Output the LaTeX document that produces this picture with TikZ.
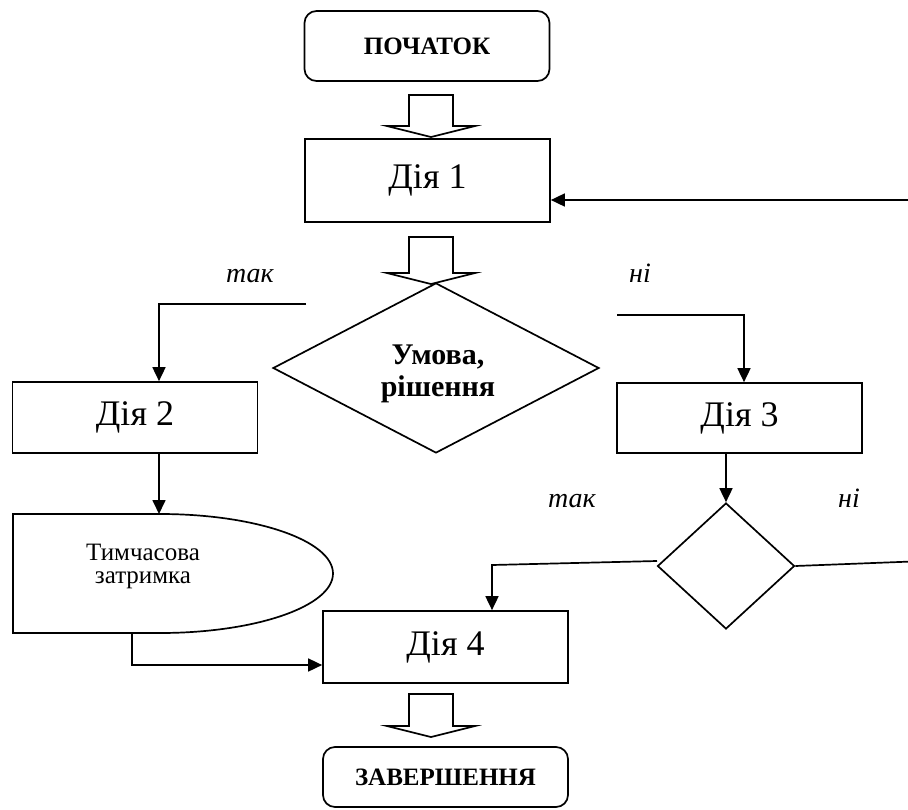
\documentclass[tikz,border=0pt]{standalone}
\usepackage{fontspec}
\setmainfont{Liberation Serif}
\usetikzlibrary{shapes.geometric,arrows.meta}
\tikzset{
  every picture/.style={line width=1.7pt, line join=miter},
  actionbox/.style={draw, rectangle, inner sep=0pt, minimum width=245pt,
    font=\fontsize{36}{40}\selectfont},
  terminal/.style={draw, rectangle, rounded corners=12pt, inner sep=0pt,
    minimum width=245pt, font=\bfseries\fontsize{25}{30}\selectfont},
  decision/.style={draw, diamond, inner sep=0pt},
  condtext/.style={inner sep=0pt, align=center, font=\bfseries\fontsize{30}{32}\selectfont},
  answer/.style={inner sep=0pt, anchor=base, font=\itshape\fontsize{28}{32}\selectfont},
  flow/.style={-{Triangle[length=14pt,width=13pt]}},
  hollow/.style={draw, fill=white},
  pics/hollowarrow/.style={code={
    \draw[hollow] (-22,0) -- (22,0) -- (22,#1) -- (44,#1) -- (0,#1+11)
      -- (-44,#1) -- (-22,#1) -- cycle;}}
}
\begin{document}
\begin{tikzpicture}[x=1pt,y=-1pt]
\useasboundingbox (0,0) rectangle (908,809);
\clip (0,0) rectangle (908,809);

% blocks
\node[terminal, minimum height=70pt] (start) at (427,46) {ПОЧАТОК};
\node[actionbox, minimum height=83pt] (act1) at (427.5,180.5) {Дія 1};
\node[decision, minimum width=326pt, minimum height=170pt] (cond) at (436,368) {};
\node[condtext] (condlabel) at (438,374) {Умова,\\рішення};
\node[actionbox, minimum height=71pt] (act2) at (135,417.5) {Дія 2};
\node[actionbox, minimum height=70pt] (act3) at (739.5,418) {Дія 3};
\node[decision, minimum width=137pt, minimum height=126pt] (test) at (726,566) {};
\node[actionbox, minimum height=72pt] (act4) at (445.5,647) {Дія 4};
\node[terminal, minimum height=60pt] (finish) at (445.5,777) {ЗАВЕРШЕННЯ};

% delay block
\draw (13,514) -- (160,514) arc[start angle=-90, end angle=90, x radius=173, y radius=59.5]
  -- (13,633) -- cycle;
\node[inner sep=0pt, align=center, font=\fontsize{25}{23}\selectfont] (delay) at (143,566)
  {Тимчасова\\затримка};

% hollow block arrows
\pic at (431,95) {hollowarrow=31};
\pic at (431,237) {hollowarrow=36};
\pic at (431,694) {hollowarrow=32};

% branch labels
\node[answer] (yes1) at (250,282) {так};
\node[answer] (no1) at (640,282) {ні};
\node[answer] (yes2) at (572,507) {так};
\node[answer] (no2) at (849,507) {ні};

% connectors
\coordinate (yesstub) at (306,304);
\coordinate (yescol) at (159,304);
\draw[flow] (yesstub) -- (yescol) -- (yescol |- act2.north);

\coordinate (nostub) at (617,315);
\coordinate (nocol) at (744,315);
\draw[flow] (nostub) -- (nocol) -- (nocol |- act3.north);

\coordinate (delaytop) at (159,514);
\draw[flow] (act2.south -| delaytop) -- (delaytop);

\coordinate (delaybot) at (132,633);
\coordinate (delayturn) at (132,665);
\draw[flow] (delaybot) -- (delayturn) -- (delayturn -| act4.west);

\draw[flow] (act3.south -| test.north) -- (test.north);

\coordinate (testyes) at (657,561);
\coordinate (act4col) at (492,565);
\draw[flow] (testyes) -- (act4col) -- (act4col |- act4.north);

\coordinate (loopcorner) at (925,561);
\coordinate (loopend) at (925,200);
\draw[flow] (test.east) -- (loopcorner) -- (loopend) -- (loopend -| act1.east);
\end{tikzpicture}
\end{document}
